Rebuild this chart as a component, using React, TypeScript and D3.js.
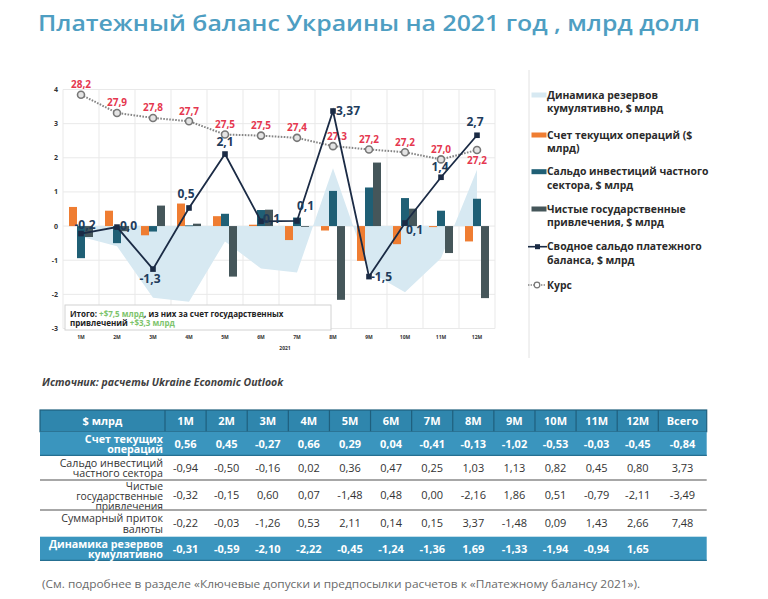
import React from 'react';
import * as d3 from 'd3';

const months = ['1M', '2M', '3M', '4M', '5M', '6M', '7M', '8M', '9M', '10M', '11M', '12M'];
const currentAccount = [0.56, 0.45, -0.27, 0.66, 0.29, 0.04, -0.41, -0.13, -1.02, -0.53, -0.03, -0.45];
const privateInvest = [-0.94, -0.5, -0.16, 0.02, 0.36, 0.47, 0.25, 1.03, 1.13, 0.82, 0.45, 0.8];
const govBorrowing = [-0.32, -0.15, 0.6, 0.07, -1.48, 0.48, 0.0, -2.16, 1.86, 0.51, -0.79, -2.11];
const totalInflow = [-0.22, -0.03, -1.26, 0.53, 2.11, 0.14, 0.15, 3.37, -1.48, 0.09, 1.43, 2.66];
const reservesCum = [-0.31, -0.59, -2.1, -2.22, -0.45, -1.24, -1.36, 1.69, -1.33, -1.94, -0.94, 1.65];
const exchangeRate = [28.2, 27.87, 27.78, 27.72, 27.48, 27.46, 27.42, 27.27, 27.21, 27.16, 27.03, 27.2];
const balanceLabels = ['-0,2', '0,0', '-1,3', '0,5', '2,1', '0,1', '0,1', '3,37', '-1,5', '0,1', '1,4', '2,7'];
const yTicks = [4, 3, 2, 1, 0, -1, -2, -3];
const rowTotals = [-0.84, 3.73, -3.49, 7.48, null];

const legendItems = [
  { kind: 'area', lines: ['Динамика резервов', 'кумулятивно, $ млрд'] },
  { kind: 'ca', lines: ['Счет текущих операций ($', 'млрд)'] },
  { kind: 'pi', lines: ['Сальдо инвестиций частного', 'сектора, $ млрд'] },
  { kind: 'gov', lines: ['Чистые государственные', 'привлечения, $ млрд'] },
  { kind: 'bal', lines: ['Сводное сальдо платежного', 'баланса, $ млрд'] },
  { kind: 'rate', lines: ['Курс'] },
];

const tableRows = [
  { label: ['Счет текущих', 'операций'], values: currentAccount, hl: true },
  { label: ['Сальдо инвестиций', 'частного сектора'], values: privateInvest, hl: false },
  { label: ['Чистые', 'государственные', 'привлечения'], values: govBorrowing, hl: false },
  { label: ['Суммарный приток', 'валюты'], values: totalInflow, hl: false },
  { label: ['Динамика резервов', 'кумулятивно'], values: reservesCum, hl: true },
];

const C = {
  area: '#d7e9f2',
  ca: '#ef7d32',
  pi: '#1f5f75',
  gov: '#45565a',
  bal: '#1b2b45',
  rate: '#858585',
  red: '#e5374f',
  navyText: '#1e3c5c',
  grid: '#e9e9e9',
};

const FONT = "'Open Sans', 'DejaVu Sans', sans-serif";

export default function App() {
  const x = d3.scaleBand<string>().domain(months).range([63, 495]).padding(0);
  const inner = d3.scaleBand<string>().domain(['ca', 'pi', 'gov']).range([0, x.bandwidth()]).paddingInner(0).paddingOuter(0.75);
  const y = d3.scaleLinear().domain([-3, 4]).range([328.5, 89.5]);
  const pxPerUnit2 = 55.3;
  const y2 = d3.scaleLinear().domain([28.2 - (328.5 - 94.7) / pxPerUnit2, 28.2 + (94.7 - 89.5) / pxPerUnit2]).range([328.5, 89.5]);
  const cx = (i: number) => (x(months[i]) as number) + x.bandwidth() / 2;

  const area = d3.area<number>().x((_, i) => cx(i)).y0(y(0)).y1((d) => y(d));
  const balLine = d3.line<number>().x((_, i) => cx(i)).y((d) => y(d));
  const rateLine = d3.line<number>().x((_, i) => cx(i)).y((d) => y2(d));

  const series = [
    { key: 'ca', values: currentAccount, color: C.ca },
    { key: 'pi', values: privateInvest, color: C.pi },
    { key: 'gov', values: govBorrowing, color: C.gov },
  ];

  // label placements for the balance line [dx, dy, anchor]
  const balPlace: [number, number, string][] = [
    [4, -5, 'middle'], [3, 3, 'start'], [-3, 14, 'middle'], [-3, -10, 'middle'],
    [0, -8, 'middle'], [2, 2, 'start'], [0, -11, 'start'], [3, 4, 'start'],
    [2, 4, 'start'], [1, 11, 'start'], [-1, -6, 'middle'], [-2, -9, 'middle'],
  ];

  const fmt = (v: number) => v.toFixed(2).replace('.', ',');
  const fmt1 = (v: number) => v.toFixed(1).replace('.', ',');

  // table geometry
  const colX = d3.scaleBand<string>().domain([...months]).range([165, 658.3]).padding(0);
  const rowY = [410, 431.7, 456, 480, 510, 536.7, 561];
  const tLeft = 40, tRight = 706.7, totalX = (658.3 + 706.7) / 2;

  return (
    <div style={{ position: 'absolute', left: 0, top: 0 }}>
      <svg width={768} height={599} style={{ display: 'block', background: '#fff' }} fontFamily={FONT}>
        <rect width={768} height={599} fill="#fff" />
        {/* title */}
        <text x={38} y={31} fontSize={21.5} fontWeight={600} fill="#4e9ec2" textLength={662} lengthAdjust="spacingAndGlyphs">
          Платежный баланс Украины на 2021 год , млрд долл
        </text>

        {/* grid */}
        {yTicks.map((t) => (
          <line key={'h' + t} x1={63} x2={495} y1={y(t)} y2={y(t)} stroke={C.grid} strokeWidth={1} />
        ))}
        {d3.range(13).map((i) => {
          const xx = 63 + i * x.bandwidth();
          return <line key={'v' + i} x1={xx} x2={xx} y1={89.5} y2={328.5} stroke={C.grid} strokeWidth={1} />;
        })}
        {yTicks.map((t) => (
          <text key={'yt' + t} x={58} y={y(t) + 2.5} fontSize={7} fontWeight={700} fill="#333" textAnchor="end">
            {t}
          </text>
        ))}

        {/* cumulative reserves area */}
        <path d={area(reservesCum) || ''} fill={C.area} />

        {/* bars */}
        {series.map((s) =>
          s.values.map((v, i) => {
            const bx = (x(months[i]) as number) + (inner(s.key) as number);
            const y0 = y(0), y1 = y(v);
            return (
              <rect key={s.key + i} x={bx} width={inner.bandwidth()} y={Math.min(y0, y1)} height={Math.max(Math.abs(y1 - y0), 0.8)} fill={s.color} />
            );
          })
        )}

        {/* note box */}
        <rect x={65} y={305} width={266} height={25} fill="#fff" stroke="#d2d2d2" strokeWidth={1} />
        <text x={70} y={316.5} fontSize={8} fontWeight={700} fill="#222">
          Итого: <tspan fill="#7dc46c">+$7,5 млрд</tspan>, из них за счет государственных
        </text>
        <text x={70} y={326} fontSize={8} fontWeight={700} fill="#222">
          привлечений <tspan fill="#7dc46c">+$3,3 млрд</tspan>
        </text>

        {/* x labels */}
        {months.map((m, i) => (
          <text key={'xl' + m} x={cx(i)} y={339} fontSize={5} fontWeight={700} fill="#333" textAnchor="middle">
            {m}
          </text>
        ))}
        <text x={285} y={350} fontSize={5} fontWeight={700} fill="#333" textAnchor="middle">2021</text>

        {/* exchange rate line */}
        <path d={rateLine(exchangeRate) || ''} fill="none" stroke={C.rate} strokeWidth={2} strokeDasharray="1.6,1.4" />
        {exchangeRate.map((v, i) => (
          <circle key={'rc' + i} cx={cx(i)} cy={y2(v)} r={3.5} fill="#e4e4e4" stroke="#777" strokeWidth={1.6} />
        ))}
        {exchangeRate.map((v, i) => (
          <text key={'rl' + i} x={cx(i) + (i === 7 ? 4 : 0)} y={i === 11 ? y2(v) + 14 : y2(v) - 6.5} fontSize={10} fontWeight={700} fill={C.red} textAnchor="middle">
            {fmt1(v)}
          </text>
        ))}

        {/* balance line */}
        <path d={balLine(totalInflow) || ''} fill="none" stroke={C.bal} strokeWidth={1.8} />
        {totalInflow.map((v, i) => (
          <rect key={'bm' + i} x={cx(i) - 2.8} y={y(v) - 2.8} width={5.6} height={5.6} fill={C.bal} />
        ))}
        {totalInflow.map((v, i) => (
          <text key={'bl' + i} x={cx(i) + balPlace[i][0]} y={y(v) + balPlace[i][1]} fontSize={12} fontWeight={700} fill={C.navyText} textAnchor={balPlace[i][2] as any}>
            {balanceLabels[i]}
          </text>
        ))}

        {/* separator */}
        <line x1={529} x2={529} y1={70} y2={358} stroke="#e2e2e2" strokeWidth={1} />

        {/* legend */}
        {legendItems.map((it, k) => {
          const ys = [95, 135, 171.7, 209, 246.7, 285][k];
          let sw: React.ReactNode = null;
          if (it.kind === 'area' || it.kind === 'ca' || it.kind === 'pi' || it.kind === 'gov') {
            const col = (C as any)[it.kind];
            sw = <rect x={531.5} y={ys - 2.5} width={15} height={5} fill={col} />;
          } else if (it.kind === 'bal') {
            sw = (
              <g>
                <line x1={528} x2={547} y1={ys} y2={ys} stroke={C.bal} strokeWidth={1.6} />
                <rect x={535} y={ys - 2.5} width={5} height={5} fill={C.bal} />
              </g>
            );
          } else {
            sw = (
              <g>
                <line x1={528} x2={546} y1={ys} y2={ys} stroke={C.rate} strokeWidth={1.6} strokeDasharray="1.4,1.2" />
                <circle cx={537} cy={ys} r={2.8} fill="#fff" stroke="#777" strokeWidth={1.2} />
              </g>
            );
          }
          return (
            <g key={'lg' + k}>
              {sw}
              {it.lines.map((ln, j) => (
                <text key={j} x={547} y={ys + 3.5 + j * 13.8} fontSize={10.4} fontWeight={700} fill="#2a2a2a">
                  {ln}
                </text>
              ))}
            </g>
          );
        })}

        {/* source */}
        <text x={42} y={386} fontSize={10.5} fontWeight={700} fontStyle="italic" fill="#3f3f3f">
          Источник: расчеты Ukraine Economic Outlook
        </text>

        {/* table */}
        <rect x={tLeft} y={rowY[0]} width={tRight - tLeft} height={rowY[1] - rowY[0]} fill="#2f86ad" stroke="#1f5f7d" strokeWidth={1.2} />
        {[165, ...months.map((m) => (colX(m) as number) + colX.bandwidth())].map((xx, i) => (
          <line key={'hc' + i} x1={xx} x2={xx} y1={rowY[0]} y2={rowY[1]} stroke="#1f5f7d" strokeWidth={1.2} />
        ))}
        <text x={102.5} y={rowY[0] + 15} fontSize={11} fontWeight={700} fill="#fff" textAnchor="middle">$ млрд</text>
        {months.map((m) => (
          <text key={'hm' + m} x={(colX(m) as number) + colX.bandwidth() / 2} y={rowY[0] + 15} fontSize={11} fontWeight={700} fill="#fff" textAnchor="middle">
            {m}
          </text>
        ))}
        <text x={totalX} y={rowY[0] + 15} fontSize={11} fontWeight={700} fill="#fff" textAnchor="middle">Всего</text>

        {tableRows.map((r, ri) => {
          const top = rowY[ri + 1], bot = rowY[ri + 2];
          const mid = (top + bot) / 2;
          const n = r.label.length;
          const lh = n === 3 ? 10 : 10.7;
          const textFill = r.hl ? '#fff' : '#333';
          const fw = r.hl ? 700 : 400;
          return (
            <g key={'tr' + ri}>
              {r.hl && <rect x={tLeft} y={top} width={tRight - tLeft} height={bot - top} fill="#3a95be" />}
              {r.hl && <line x1={tLeft} x2={tRight} y1={bot - 0.6} y2={bot - 0.6} stroke="#256f91" strokeWidth={1.2} />}
              {r.label.map((ln, j) => (
                <text key={j} x={163} y={mid + 4 + (j - (n - 1) / 2) * lh + (n === 3 ? 1 : 0)} fontSize={n === 3 ? 10.3 : 10.7} fontWeight={fw} fill={textFill} textAnchor="end">
                  {ln}
                </text>
              ))}
              {!r.hl && ri < 3 && ri > 0 && <line x1={tLeft} x2={tRight} y1={bot} y2={bot} stroke="#8a8a8a" strokeWidth={1.5} />}
              {r.values.map((v, i) => (
                <text key={'v' + i} x={(colX(months[i]) as number) + colX.bandwidth() / 2} y={mid + 4} fontSize={11} fontWeight={fw} fill={textFill} textAnchor="middle">
                  {fmt(v)}
                </text>
              ))}
              {rowTotals[ri] !== null && (
                <text x={totalX} y={mid + 4} fontSize={11} fontWeight={fw} fill={textFill} textAnchor="middle">
                  {fmt(rowTotals[ri] as number)}
                </text>
              )}
            </g>
          );
        })}

        {/* footer */}
        <text x={42} y={588} fontSize={10.5} fill="#6a6a6a" textLength={598} lengthAdjust="spacingAndGlyphs">
          (См. подробнее в разделе «Ключевые допуски и предпосылки расчетов к «Платежному балансу 2021»).
        </text>
      </svg>
    </div>
  );
}
